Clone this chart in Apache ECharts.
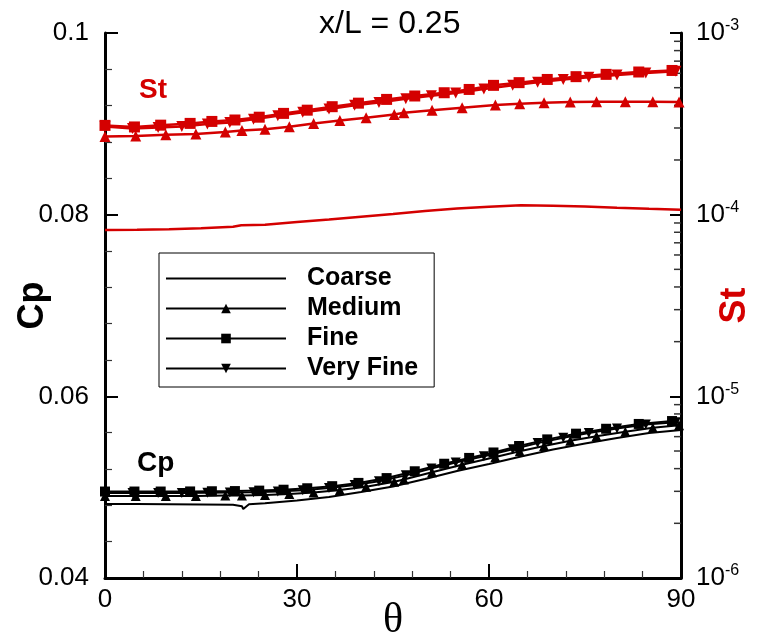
<!DOCTYPE html>
<html><head><meta charset="utf-8">
<script src="https://cdn.jsdelivr.net/npm/echarts@6/dist/echarts.min.js"></script>
<style>html,body{margin:0;padding:0;background:#fff}#c{width:760px;height:643px}</style>
</head><body><div id="c"></div>
<script>
// ---- data ----
const gridNames = ['Coarse', 'Medium', 'Fine', 'Very Fine'];
const stMinorTicks = [2e-6,3e-6,4e-6,5e-6,6e-6,7e-6,8e-6,9e-6,
                      2e-5,3e-5,4e-5,5e-5,6e-5,7e-5,8e-5,9e-5,
                      2e-4,3e-4,4e-4,5e-4,6e-4,7e-4,8e-4,9e-4];

const thetaCoarseCp = [0,5,10,15,20,21.4,21.6,22.5,25,30,35,40,45,50,55,60,65,70,75,80,85,90];
const cpCoarse = [0.04814,0.04814,0.04813,0.04810,0.04806,0.04790,0.04760,0.04812,0.04822,0.04853,0.04891,0.04946,0.05007,0.05090,0.05178,0.05254,0.05337,0.05414,0.05480,0.05541,0.05596,0.05629];
const thetaCoarseSt = [0,5,10,15,20,21.3,21.5,25,30,35,40,45,50,55,60,65,70,75,80,85,90];
const stCoarse = [8.23e-5,8.26e-5,8.30e-5,8.42e-5,8.59e-5,8.75e-5,8.55e-5,8.80e-5,9.11e-5,9.42e-5,9.75e-5,1.01e-4,1.047e-4,1.08e-4,1.107e-4,1.125e-4,1.12e-4,1.11e-4,1.093e-4,1.078e-4,1.065e-4];

const thetaMedium = [0,4.8,9.5,14.2,18.8,21.4,25,28.8,32.6,36.7,40.8,45.2,46.7,51.1,55.8,61,64.8,68.6,72.7,76.8,81.3,85.6,89.7];
const cpMedium = [0.04902,0.04902,0.04902,0.04904,0.04907,0.04909,0.04915,0.04926,0.04940,0.04970,0.05004,0.05059,0.05085,0.05164,0.05246,0.05332,0.05395,0.05454,0.05511,0.05561,0.05610,0.05655,0.05682];
const stMedium = [2.69e-4,2.71e-4,2.75e-4,2.78e-4,2.85e-4,2.91e-4,2.95e-4,3.05e-4,3.18e-4,3.30e-4,3.42e-4,3.56e-4,3.64e-4,3.76e-4,3.88e-4,4.01e-4,4.08e-4,4.13e-4,4.17e-4,4.19e-4,4.19e-4,4.19e-4,4.17e-4];

const thetaFine = [0,4.6,8.7,13.3,16.7,20.3,24.1,27.9,31.6,35.5,39.6,44,48.4,53,56.9,60.7,64.7,69.1,73.6,78.3,83.4,88.6];
const cpFine = [0.04952,0.04952,0.04952,0.04953,0.04955,0.04957,0.04962,0.04972,0.04988,0.05011,0.05047,0.05100,0.05175,0.05258,0.05322,0.05382,0.05453,0.05526,0.05589,0.05643,0.05696,0.05728];
const stFine = [3.10e-4,3.04e-4,3.11e-4,3.18e-4,3.26e-4,3.32e-4,3.44e-4,3.61e-4,3.76e-4,3.93e-4,4.11e-4,4.31e-4,4.50e-4,4.69e-4,4.89e-4,5.15e-4,5.33e-4,5.55e-4,5.75e-4,5.92e-4,6.10e-4,6.22e-4];

const thetaVeryFine = [0,4.3,8.3,12,16,19.5,23.2,27,30.9,35,39,42.8,47,51,54.8,59.2,63.7,67.6,71.6,75.6,80,84.5,89.2];
const cpVeryFine = [0.04935,0.04935,0.04935,0.04936,0.04938,0.04940,0.04944,0.04952,0.04966,0.04990,0.05025,0.05066,0.05130,0.05206,0.05272,0.05340,0.05418,0.05485,0.05545,0.05597,0.05645,0.05690,0.05714];
const stVeryFine = [3.06e-4,2.98e-4,3.02e-4,3.06e-4,3.16e-4,3.22e-4,3.35e-4,3.50e-4,3.66e-4,3.82e-4,4.00e-4,4.15e-4,4.34e-4,4.51e-4,4.68e-4,4.92e-4,5.15e-4,5.35e-4,5.55e-4,5.70e-4,5.88e-4,6.03e-4,6.15e-4];

// ---- build ----
const zip = (a, b) => a.map((v, i) => [v, b[i]]);
const RED = '#d40000';
const FONT = 'Liberation Sans, Arial, sans-serif';
const markers = {
  'Coarse': {symbol: 'none', symbolRotate: 0},
  'Medium': {symbol: 'triangle', symbolRotate: 0},
  'Fine': {symbol: 'rect', symbolRotate: 0},
  'Very Fine': {symbol: 'triangle', symbolRotate: 180}
};
const cpData = {
  'Coarse': zip(thetaCoarseCp, cpCoarse),
  'Medium': zip(thetaMedium, cpMedium),
  'Fine': zip(thetaFine, cpFine),
  'Very Fine': zip(thetaVeryFine, cpVeryFine)
};
const stData = {
  'Coarse': zip(thetaCoarseSt, stCoarse),
  'Medium': zip(thetaMedium, stMedium),
  'Fine': zip(thetaFine, stFine),
  'Very Fine': zip(thetaVeryFine, stVeryFine)
};

const series = [];
gridNames.forEach(n => {
  series.push({
    name: n, type: 'line', xAxisIndex: 0, yAxisIndex: 0,
    data: cpData[n], symbol: markers[n].symbol, symbolRotate: markers[n].symbolRotate,
    symbolSize: 10, showAllSymbol: true, animation: false,
    itemStyle: {color: '#000'}, lineStyle: {color: '#000', width: 2}
  });
});
gridNames.forEach(n => {
  series.push({
    name: n, type: 'line', xAxisIndex: 0, yAxisIndex: 1,
    data: stData[n], symbol: markers[n].symbol, symbolRotate: markers[n].symbolRotate,
    symbolSize: 11, showAllSymbol: true, animation: false,
    itemStyle: {color: RED}, lineStyle: {color: RED, width: 2.5}
  });
});
series.push({
  type: 'custom', xAxisIndex: 0, yAxisIndex: 1, silent: true, animation: false, clip: false,
  data: stMinorTicks.map(v => [90, v]),
  renderItem: (params, api) => {
    const p = api.coord([api.value(0), api.value(1)]);
    return {type: 'line', shape: {x1: p[0] - 7, y1: p[1], x2: p[0], y2: p[1]},
            style: {stroke: '#333', lineWidth: 1.5}};
  }
});

const legendData = gridNames.map(n => n === 'Coarse'
  ? {name: n, itemStyle: {color: 'rgba(0,0,0,0)', borderColor: 'rgba(0,0,0,0)', borderWidth: 0}}
  : {name: n});

const chart = echarts.init(document.getElementById('c'), null, {renderer: 'canvas'});
chart.setOption({
  backgroundColor: '#fff',
  animation: false,
  title: {
    text: 'x/L = 0.25', left: 314, top: 3,
    textStyle: {fontFamily: FONT, fontSize: 32, fontWeight: 'normal', color: '#000'}
  },
  grid: {left: 105, right: 79, top: 33, bottom: 65, containLabel: false, outerBoundsMode: 'none'},
  legend: {
    orient: 'vertical', left: 159, top: 253,
    data: legendData,
    itemWidth: 120, itemHeight: 12, itemGap: 5,
    padding: [13, 16, 6, 6],
    borderColor: '#000', borderWidth: 1, backgroundColor: '#fff',
    textStyle: {fontFamily: FONT, fontSize: 25, fontWeight: 'bold', color: '#000', padding: [0, 0, 0, 16]},
    selectedMode: false
  },
  xAxis: {
    type: 'value', min: 0, max: 90, interval: 30,
    name: 'θ', nameLocation: 'middle', nameGap: 22, nameMoveOverlap: false,
    nameTextStyle: {fontFamily: 'Liberation Serif, DejaVu Serif, serif', fontSize: 42, color: '#000'},
    axisLine: {show: true, lineStyle: {color: '#000', width: 3}},
    axisTick: {show: true, inside: true, length: 14, lineStyle: {color: '#000', width: 2}},
    minorTick: {show: true, splitNumber: 5, length: 7, lineStyle: {color: '#333', width: 1.2}},
    axisLabel: {fontFamily: FONT, fontSize: 26, color: '#000', margin: 9},
    splitLine: {show: false}
  },
  yAxis: [{
    type: 'value', min: 0.04, max: 0.1, interval: 0.02, position: 'left',
    name: 'Cp', nameLocation: 'middle', nameRotate: 90, nameGap: 54, nameMoveOverlap: false,
    nameTextStyle: {fontFamily: FONT, fontSize: 36, fontWeight: 'bold', color: '#000'},
    axisLine: {show: true, lineStyle: {color: '#000', width: 3}},
    axisTick: {show: true, inside: true, length: 13, lineStyle: {color: '#000', width: 2}},
    minorTick: {show: true, splitNumber: 5, length: 7, lineStyle: {color: '#333', width: 1.2}},
    axisLabel: {fontFamily: FONT, fontSize: 26, color: '#000', margin: 16,
      formatter: v => String(+v.toFixed(2))},
    splitLine: {show: false}
  }, {
    type: 'log', logBase: 10, min: 1e-6, max: 1e-3, position: 'right',
    name: 'St', nameLocation: 'middle', nameRotate: 90, nameGap: 36, nameMoveOverlap: false,
    nameTextStyle: {fontFamily: FONT, fontSize: 36, fontWeight: 'bold', color: RED},
    axisLine: {show: true, lineStyle: {color: '#000', width: 3}},
    axisTick: {show: true, inside: true, length: 11, lineStyle: {color: '#000', width: 2}},
    axisLabel: {fontFamily: FONT, color: '#000', margin: 15,
      formatter: v => '{b|10}{s|' + Math.round(Math.log10(v)) + '}',
      rich: {b: {fontFamily: FONT, fontSize: 26, color: '#000'},
             s: {fontFamily: FONT, fontSize: 16, color: '#000', padding: [0, 0, 14, 0]}}},
    splitLine: {show: false}
  }],
  graphic: [
    {type: 'text', left: 139, top: 76, style: {text: 'St', fill: RED, font: 'bold 28px ' + FONT}},
    {type: 'text', left: 137, top: 449, style: {text: 'Cp', fill: '#000', font: 'bold 28px ' + FONT}}
  ],
  series: series
});
</script></body></html>
